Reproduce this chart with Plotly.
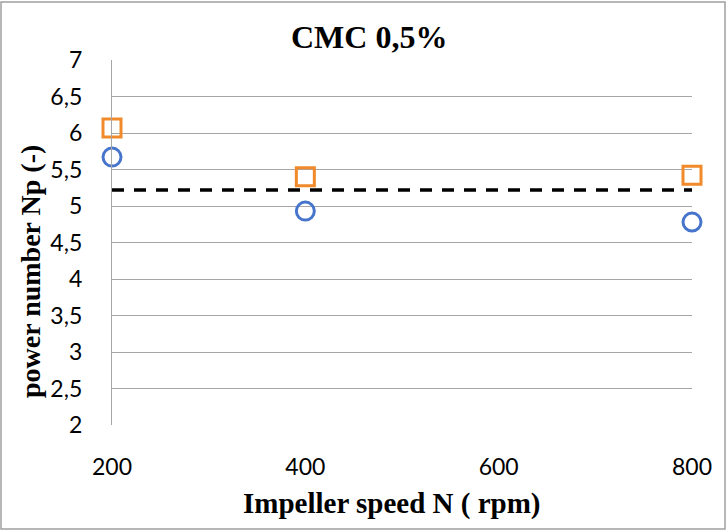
import plotly.graph_objects as go

speed = [200, 400, 800]
np_circles = [5.67, 4.93, 4.78]
np_squares = [6.07, 5.40, 5.42]
dash_x = [200, 800]
dash_y = [5.22, 5.22]
y_ticks = [2, 2.5, 3, 3.5, 4, 4.5, 5, 5.5, 6, 6.5, 7]
y_ticklabels = ["2", "2,5", "3", "3,5", "4", "4,5", "5", "5,5", "6", "6,5", "7"]
x_ticks = [200, 400, 600, 800]

fig = go.Figure()
fig.add_trace(go.Scatter(x=dash_x, y=dash_y, mode="lines",
                         line=dict(color="black", width=3.5, dash="12px,10px"), cliponaxis=False))
fig.add_trace(go.Scatter(x=speed, y=np_circles, mode="markers", cliponaxis=False,
                         marker=dict(symbol="circle-open", size=18, color="#4775CC",
                                     line=dict(width=3, color="#4775CC"))))
fig.add_trace(go.Scatter(x=speed, y=np_squares, mode="markers", cliponaxis=False,
                         marker=dict(symbol="square-open", size=18, color="#F08A2A",
                                     line=dict(width=3, color="#F08A2A"))))

L, R, T, B = 112, 35, 60, 106
W, H = 727, 531
pw, ph = W - L - R, H - T - B

def px_x(p):
    return (p - L) / pw

def px_y(p):
    return (T + ph - p) / ph

serif = "Liberation Serif"
fig.update_layout(
    width=W, height=H,
    margin=dict(l=L, r=R, t=T, b=B, autoexpand=False),
    plot_bgcolor="white", paper_bgcolor="white",
    showlegend=False,
    xaxis=dict(range=[200, 800], tickvals=x_ticks, showgrid=False, zeroline=False,
               showline=False, ticklabelstandoff=26, automargin=False,
               tickfont=dict(family="Lato", size=23, color="black")),
    yaxis=dict(range=[2, 7], tickvals=y_ticks, ticktext=y_ticklabels,
               showgrid=True, gridcolor="#A6A6A6", gridwidth=1.3, zeroline=False,
               showline=True, linecolor="#A6A6A6", linewidth=1.3, ticklabelstandoff=24,
               automargin=False,
               tickfont=dict(family="Lato", size=23, color="black")),
    annotations=[
        dict(text="<b>CMC 0,5%</b>", xref="paper", yref="paper", x=px_x(369), y=px_y(37),
             xanchor="center", yanchor="middle", showarrow=False,
             font=dict(family=serif, size=32, color="black")),
        dict(text="<b>Impeller speed N ( rpm)</b>", xref="paper", yref="paper",
             x=px_x(391), y=px_y(503), xanchor="center", yanchor="middle", showarrow=False,
             font=dict(family=serif, size=29, color="black")),
        dict(text="<b>power number Np (-)</b>", xref="paper", yref="paper",
             x=px_x(30), y=px_y(272), xanchor="center", yanchor="middle", showarrow=False,
             textangle=-90, font=dict(family=serif, size=28, color="black")),
    ],
    shapes=[dict(type="rect", xref="paper", yref="paper",
                 x0=px_x(1), x1=px_x(W - 2), y0=px_y(H - 2), y1=px_y(2),
                 line=dict(color="#A0A0A0", width=1.5), layer="below")],
)
fig.write_html("out.html", config={"displayModeBar": False},
               post_script="document.body.style.margin='0';document.body.style.overflow='hidden';")
